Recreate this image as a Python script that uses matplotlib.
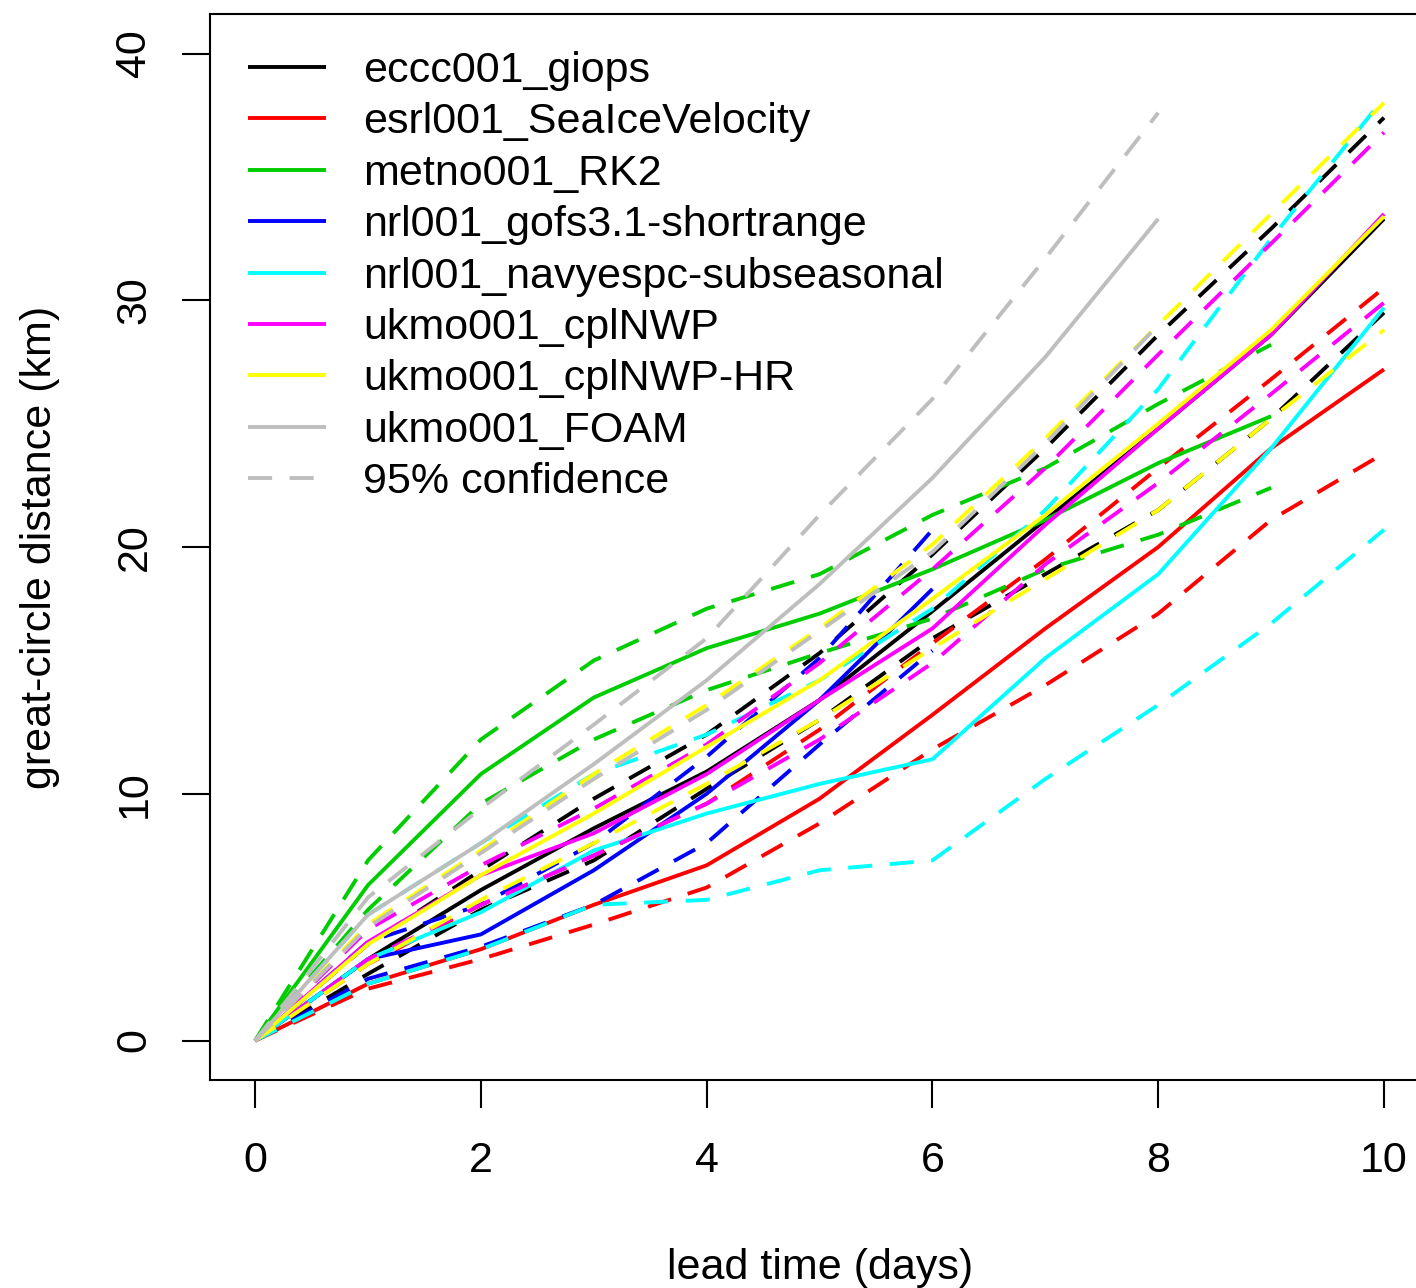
import numpy as np
import matplotlib
matplotlib.use("Agg")
import matplotlib.pyplot as plt

plt.rcParams['font.family'] = ['Liberation Sans', 'DejaVu Sans']

# lead times (days)
days = np.arange(0, 11)

models = ["eccc001_giops", "esrl001_SeaIceVelocity", "metno001_RK2",
          "nrl001_gofs3.1-shortrange", "nrl001_navyespc-subseasonal",
          "ukmo001_cplNWP", "ukmo001_cplNWP-HR", "ukmo001_FOAM"]
colors = ["black", "red", "#00CD00", "blue", "cyan", "magenta", "yellow", "#BEBEBE"]

# mean great-circle distance (km) and 95% confidence bounds per model
giops_mean = [0, 3.3, 6.1, 8.6, 10.9, 13.8, 17.4, 21.1, 24.8, 28.6, 33.3]
giops_hi = [0, 3.9, 6.9, 9.8, 12.4, 15.7, 19.7, 24.0, 28.6, 32.9, 37.4]
giops_lo = [0, 2.7, 5.3, 7.3, 10.2, 13.0, 16.3, 18.9, 21.5, 25.2, 29.5]

esrl_mean = [0, 2.3, 3.7, 5.5, 7.1, 9.8, 13.2, 16.7, 20.0, 24.0, 27.2]
esrl_hi = [0, 3.1, 5.5, 7.5, 9.6, 12.6, 16.1, 19.5, 23.2, 26.8, 30.5]
esrl_lo = [0, 2.1, 3.3, 4.7, 6.2, 8.8, 11.8, 14.4, 17.3, 21.1, 23.8]

metno_mean = [0, 6.3, 10.8, 13.9, 15.9, 17.3, 19.1, 21.1, 23.4, 25.3]
metno_hi = [0, 7.3, 12.2, 15.4, 17.5, 18.9, 21.3, 23.2, 25.8, 28.2]
metno_lo = [0, 5.3, 9.6, 12.2, 14.2, 15.7, 17.1, 19.1, 20.5, 22.4]

gofs_mean = [0, 3.3, 4.3, 6.9, 10.0, 13.8, 18.3]
gofs_hi = [0, 4.0, 5.5, 8.0, 11.5, 15.5, 20.7]
gofs_lo = [0, 2.5, 3.8, 5.5, 8.0, 12.0, 15.8]

navy_mean = [0, 3.3, 5.2, 7.7, 9.2, 10.4, 11.4, 15.5, 18.9, 24.0, 29.7]
navy_hi = [0, 5.1, 8.0, 10.8, 12.4, 14.6, 17.5, 21.5, 26.4, 32.5, 38.2]
navy_lo = [0, 2.3, 3.7, 5.5, 5.7, 6.9, 7.3, 10.6, 13.6, 16.9, 20.7]

cpl_mean = [0, 4.0, 6.7, 8.4, 10.8, 13.8, 16.7, 20.9, 24.8, 28.6, 33.5]
cpl_hi = [0, 4.5, 7.1, 9.4, 12.0, 15.3, 19.1, 23.2, 27.8, 32.3, 36.8]
cpl_lo = [0, 3.3, 5.5, 7.5, 9.6, 12.2, 15.3, 19.3, 22.6, 26.2, 29.9]

cplhr_mean = [0, 3.9, 6.7, 9.2, 11.9, 14.6, 17.9, 21.3, 25.0, 28.8, 33.4]
cplhr_hi = [0, 4.7, 7.7, 10.8, 13.6, 16.7, 20.1, 24.4, 29.0, 33.5, 38.0]
cplhr_lo = [0, 3.1, 5.7, 8.0, 10.4, 13.0, 15.9, 18.7, 21.5, 25.2, 28.8]

foam_mean = [0, 5.1, 8.0, 11.2, 14.6, 18.5, 22.8, 27.7, 33.3]
foam_hi = [0, 5.8, 9.4, 12.8, 16.3, 21.3, 26.0, 31.7, 37.6]
foam_lo = [0, 4.6, 7.6, 10.6, 13.4, 16.6, 19.8, 24.2, 29.0]

series = [
    (giops_mean, giops_hi, giops_lo),
    (esrl_mean, esrl_hi, esrl_lo),
    (metno_mean, metno_hi, metno_lo),
    (gofs_mean, gofs_hi, gofs_lo),
    (navy_mean, navy_hi, navy_lo),
    (cpl_mean, cpl_hi, cpl_lo),
    (cplhr_mean, cplhr_hi, cplhr_lo),
    (foam_mean, foam_hi, foam_lo),
]

lw = 2.8
dash = (0, (6.2, 4.5))

fig = plt.figure(figsize=(14.16, 12.88), dpi=100)
ax = fig.add_axes([0.1483, 0.1615, 0.861, 0.8276])

for name, col, (m, hi, lo) in zip(models, colors, series):
    n = len(m)
    ax.plot(days[:n], m, color=col, lw=lw, label=name, solid_capstyle='butt')
    ax.plot(days[:n], hi, color=col, lw=lw, linestyle=dash)
    ax.plot(days[:n], lo, color=col, lw=lw, linestyle=dash)

# legend entry for the confidence bounds
ax.plot([], [], color="#BEBEBE", lw=lw, linestyle=dash, label="95% confidence")

ax.set_xlim(-0.4, 10.4)
ax.set_ylim(-1.6, 41.6)
ax.set_xticks([0, 2, 4, 6, 8, 10])
ax.set_yticks([0, 10, 20, 30, 40])
ax.set_yticklabels(["0", "10", "20", "30", "40"], rotation=90, va='center')
ax.tick_params(axis='both', length=20, width=1.5, labelsize=31, direction='out')
ax.tick_params(axis='x', pad=24)
ax.tick_params(axis='y', pad=20)
for s in ax.spines.values():
    s.set_linewidth(1.5)

ax.set_xlabel("lead time (days)", fontsize=31, labelpad=48)
ax.set_ylabel("great-circle distance (km)", fontsize=31, labelpad=39)

leg = ax.legend(loc='upper left', bbox_to_anchor=(248 / 1416, 1 - 51 / 1288),
                bbox_transform=fig.transFigure, frameon=False, fontsize=31,
                handlelength=1.81, handletextpad=0.86, labelspacing=0.265,
                borderpad=0, borderaxespad=0)

fig.savefig("out.png", dpi=100)
